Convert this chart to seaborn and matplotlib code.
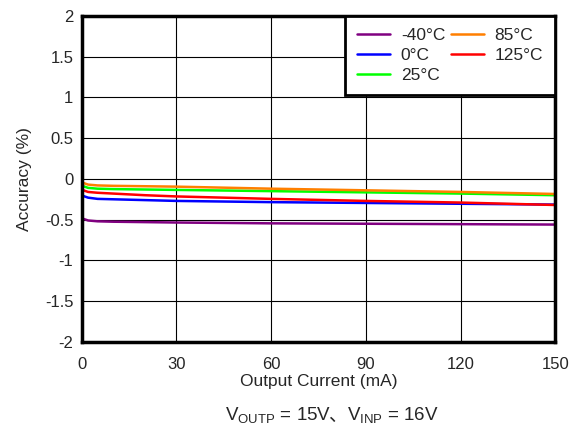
import matplotlib
matplotlib.use("Agg")
import matplotlib.pyplot as plt
from matplotlib.offsetbox import TextArea, HPacker, AnchoredOffsetbox
import seaborn as sns
import pandas as pd

current_ma = [0, 0.5, 2, 5, 10, 20, 30, 60, 90, 120, 150]
acc_m40 = [-0.47, -0.49, -0.51, -0.52, -0.525, -0.53, -0.535, -0.545, -0.55, -0.555, -0.56]
acc_0 = [-0.18, -0.21, -0.23, -0.245, -0.25, -0.26, -0.27, -0.285, -0.295, -0.305, -0.315]
acc_25 = [-0.06, -0.09, -0.11, -0.12, -0.125, -0.13, -0.135, -0.15, -0.165, -0.18, -0.2]
acc_85 = [-0.03, -0.05, -0.07, -0.08, -0.085, -0.09, -0.095, -0.12, -0.14, -0.16, -0.185]
acc_125 = [-0.1, -0.14, -0.16, -0.17, -0.18, -0.2, -0.215, -0.245, -0.27, -0.29, -0.32]

temps = ["-40°C", "0°C", "25°C", "85°C", "125°C"]
colors = ["#800080", "#0000ff", "#00ff00", "#ff7f00", "#ff0000"]

series = [acc_m40, acc_0, acc_25, acc_85, acc_125]
rows = []
for t, vals in zip(temps, series):
    for x, y in zip(current_ma, vals):
        rows.append({"Current": x, "Accuracy": y, "Temp": t})
df = pd.DataFrame(rows)

sns.set_style("white")
plt.rcParams["font.family"] = ["Liberation Sans", "Noto Sans CJK JP", "DejaVu Sans"]

fig = plt.figure(figsize=(5.76, 4.28), dpi=100)
ax = fig.add_axes([0.142, 0.201, 0.822, 0.762])

sns.lineplot(data=df, x="Current", y="Accuracy", hue="Temp", hue_order=temps,
             palette=colors, linewidth=1.8, ax=ax)

ax.set_xlim(0, 150)
ax.set_ylim(-2, 2)
ax.set_xticks([0, 30, 60, 90, 120, 150])
ax.set_yticks([-2, -1.5, -1, -0.5, 0, 0.5, 1, 1.5, 2])
ax.set_yticklabels(["-2", "-1.5", "-1", "-0.5", "0", "0.5", "1", "1.5", "2"])
ax.grid(True, color="black", linewidth=0.8)
ax.tick_params(axis="both", labelsize=12, length=0)
ax.tick_params(axis="x", pad=11)
ax.tick_params(axis="y", pad=6)
for s in ax.spines.values():
    s.set_color("black")
    s.set_linewidth(2.5)
ax.set_xlabel("Output Current (mA)", fontsize=12.5, labelpad=1)
ax.set_ylabel("Accuracy (%)", fontsize=12.5, labelpad=9)

leg = ax.legend(loc="upper right", ncol=2, fontsize=12.5, frameon=True, fancybox=False,
                borderaxespad=0, handlelength=1.9, columnspacing=0.35,
                labelspacing=0.27, handletextpad=0.6, borderpad=0.7)
leg.get_frame().set_edgecolor("black")
leg.get_frame().set_linewidth(2)
leg.get_frame().set_alpha(1)

# caption below the plot, split so the CJK comma gets its own font
tp = dict(fontsize=13.5)
t1 = TextArea(r"V$_{\mathregular{OUTP}}$ = 15V", textprops=tp)
t2 = TextArea("、", textprops=dict(fontsize=13.5, family="Noto Sans CJK JP"))
t3 = TextArea(r"V$_{\mathregular{INP}}$ = 16V", textprops=tp)
left = HPacker(children=[t1, t2], align="baseline", pad=0, sep=-2)
box = HPacker(children=[left, t3], align="baseline", pad=0, sep=0)
cap = AnchoredOffsetbox(loc="center", child=box, bbox_to_anchor=(0.576, 0.03),
                        bbox_transform=fig.transFigure, frameon=False, pad=0, borderpad=0)
fig.add_artist(cap)

fig.savefig("out.png", dpi=100)
